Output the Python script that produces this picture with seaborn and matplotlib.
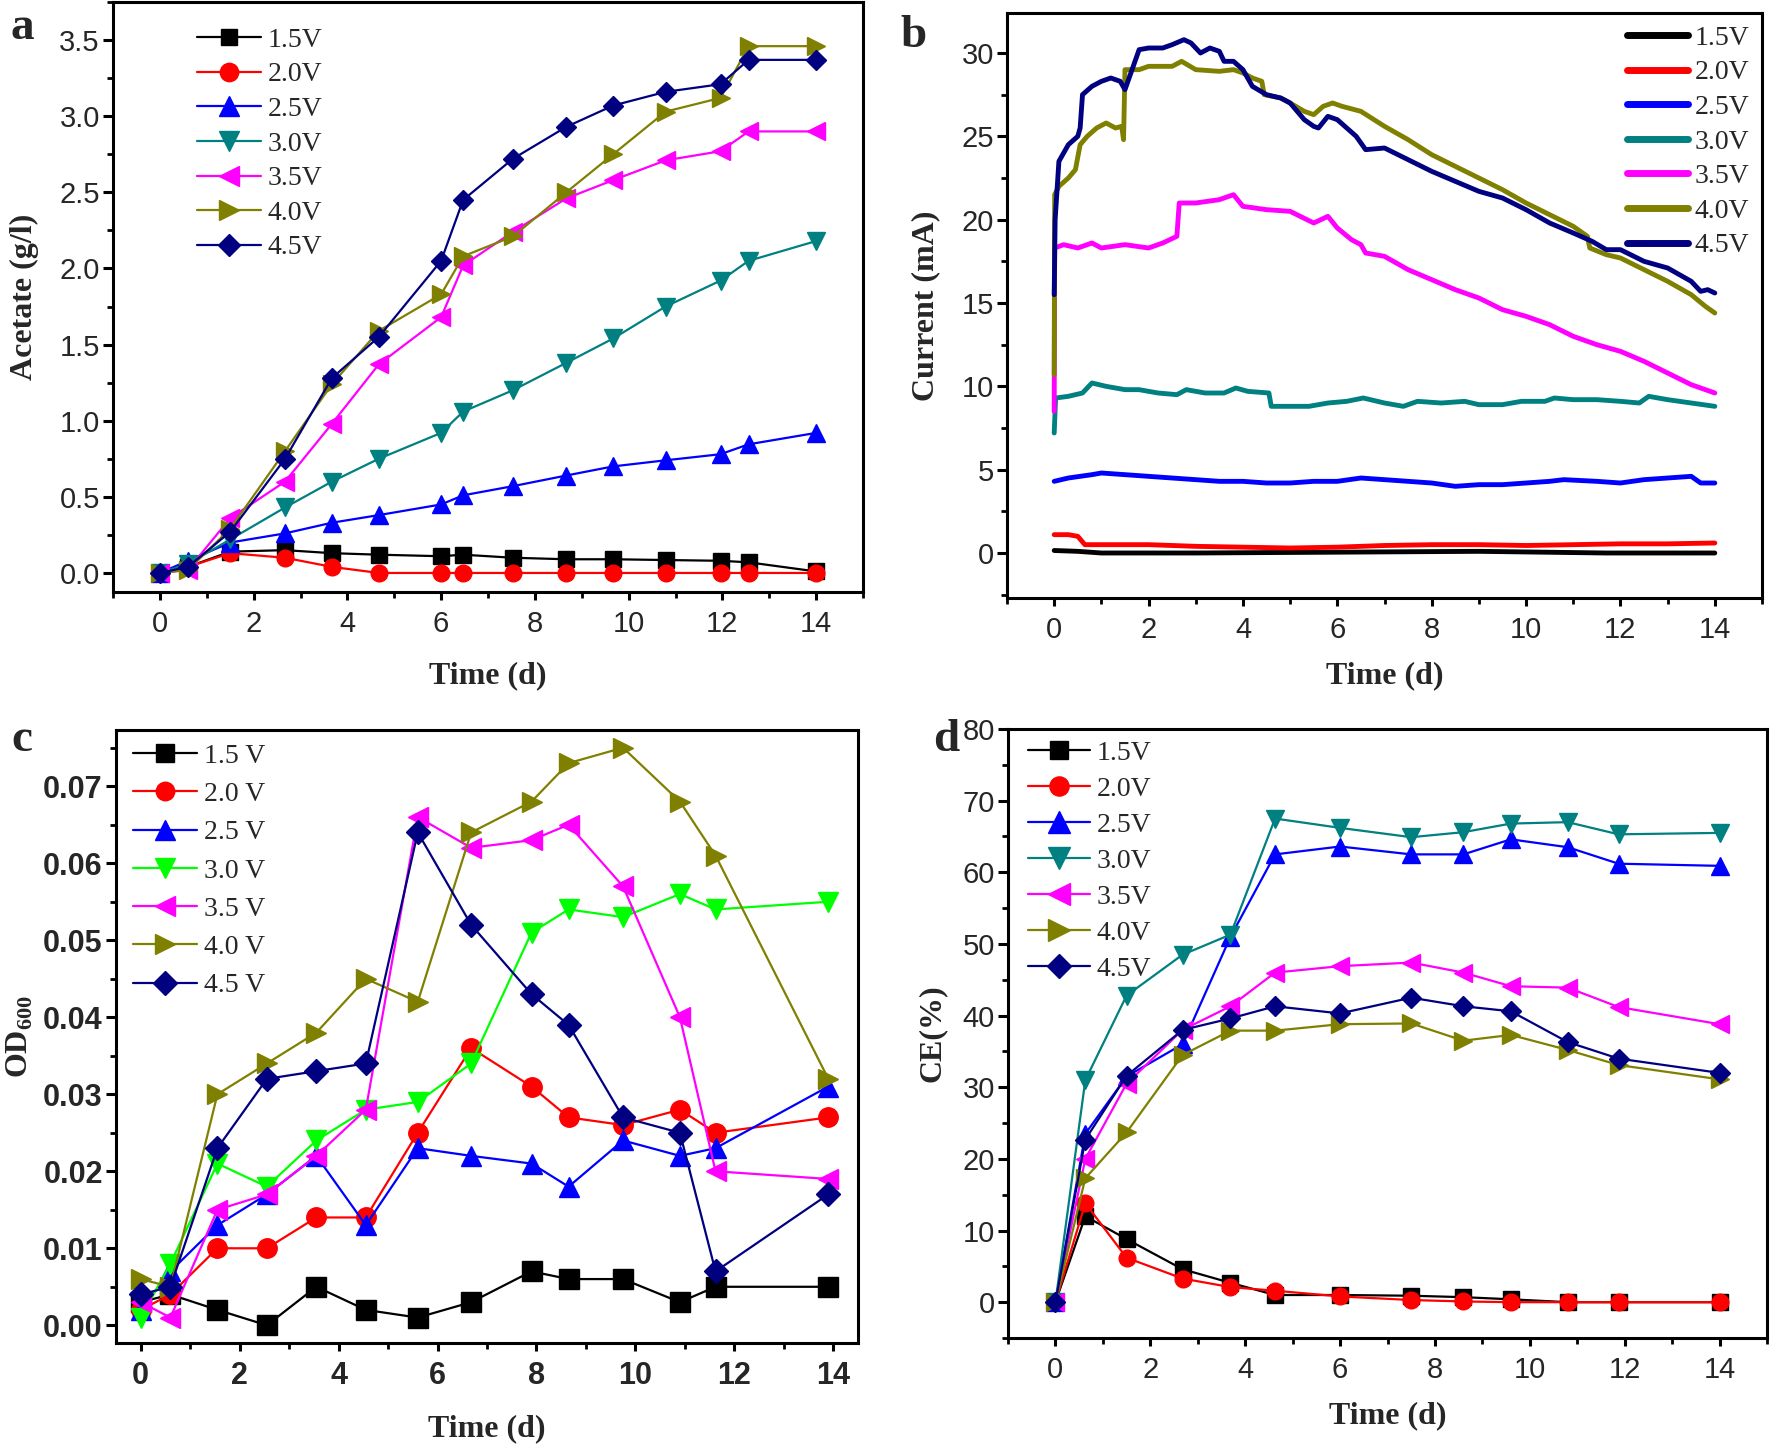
import numpy as np
import pandas as pd
import matplotlib
matplotlib.use("Agg")
import matplotlib.pyplot as plt
from matplotlib.ticker import MultipleLocator, FormatStrFormatter
import seaborn as sns

# ---------------- data ----------------
volt_labels = ["1.5V", "2.0V", "2.5V", "3.0V", "3.5V", "4.0V", "4.5V"]
volt_labels_c = ["1.5 V", "2.0 V", "2.5 V", "3.0 V", "3.5 V", "4.0 V", "4.5 V"]
colors = ["#000000", "#FF0000", "#0000FF", "#008080", "#FF00FF", "#808000", "#000080"]
colors_c = ["#000000", "#FF0000", "#0000FF", "#00FF00", "#FF00FF", "#808000", "#000080"]
markers = ["s", "o", "^", "v", "<", ">", "D"]

# (a) acetate
t_a = [0, 0.6, 1.5, 2.67, 3.67, 4.67, 6.0, 6.47, 7.53, 8.67, 9.67, 10.79, 11.96, 12.56, 14]
ac_15 = [0, 0.04, 0.14, 0.15, 0.13, 0.12, 0.11, 0.12, 0.10, 0.09, 0.09, 0.085, 0.08, 0.07, 0.01]
ac_20 = [0, 0.04, 0.13, 0.10, 0.04, 0, 0, 0, 0, 0, 0, 0, 0, 0, 0]
ac_25 = [0, 0.08, 0.20, 0.26, 0.33, 0.38, 0.45, 0.51, 0.57, 0.64, 0.70, 0.74, 0.78, 0.845, 0.92]
ac_30 = [0, 0.06, 0.22, 0.43, 0.60, 0.75, 0.92, 1.06, 1.20, 1.38, 1.54, 1.75, 1.92, 2.05, 2.18]
ac_35 = [0, 0.02, 0.36, 0.60, 0.98, 1.37, 1.68, 2.02, 2.24, 2.46, 2.58, 2.71, 2.77, 2.90, 2.90]
ac_40 = [0, 0.02, 0.29, 0.80, 1.24, 1.59, 1.83, 2.08, 2.21, 2.50, 2.75, 3.03, 3.12, 3.46, 3.46]
ac_45 = [0, 0.04, 0.27, 0.75, 1.28, 1.55, 2.05, 2.45, 2.72, 2.93, 3.07, 3.16, 3.21, 3.37, 3.37]

# (b) current traces
b_t15 = [0, 0.5, 1.0, 3.0, 6.0, 9.0, 11.7, 14.0]
b_i15 = [0.15, 0.1, 0.0, 0.0, 0.05, 0.1, 0.0, 0.0]
b_t20 = [0, 0.3, 0.5, 0.65, 1.0, 2.0, 3.0, 4.0, 5.0, 6.0, 7.0, 8.0, 9.0, 10.0, 11.0, 12.0, 13.0, 14.0]
b_i20 = [1.1, 1.1, 1.0, 0.5, 0.5, 0.5, 0.4, 0.35, 0.3, 0.35, 0.45, 0.5, 0.5, 0.45, 0.5, 0.55, 0.55, 0.6]
b_t25 = [0, 0.3, 0.8, 1.0, 1.5, 2.0, 2.5, 3.0, 3.5, 4.0, 4.5, 5.0, 5.5, 6.0, 6.5, 7.0, 7.5, 8.0,
         8.5, 9.0, 9.5, 10.0, 10.5, 10.8, 11.5, 12.0, 12.5, 13.0, 13.5, 13.7, 14.0]
b_i25 = [4.3, 4.5, 4.7, 4.8, 4.7, 4.6, 4.5, 4.4, 4.3, 4.3, 4.2, 4.2, 4.3, 4.3, 4.5, 4.4, 4.3, 4.2,
         4.0, 4.1, 4.1, 4.2, 4.3, 4.4, 4.3, 4.2, 4.4, 4.5, 4.6, 4.2, 4.2]
b_t30 = [0, 0.03, 0.3, 0.6, 0.8, 1.1, 1.5, 1.8, 2.2, 2.6, 2.8, 3.2, 3.6, 3.85, 4.1, 4.55, 4.6, 5.0,
         5.4, 5.8, 6.2, 6.55, 7.0, 7.4, 7.7, 8.2, 8.7, 9.0, 9.5, 9.9, 10.4, 10.6, 11.0, 11.5, 12.0,
         12.4, 12.6, 13.0, 13.5, 14.0]
b_i30 = [7.2, 9.3, 9.4, 9.6, 10.2, 10.0, 9.8, 9.8, 9.6, 9.5, 9.8, 9.6, 9.6, 9.9, 9.7, 9.6, 8.8, 8.8,
         8.8, 9.0, 9.1, 9.3, 9.0, 8.8, 9.1, 9.0, 9.1, 8.9, 8.9, 9.1, 9.1, 9.3, 9.2, 9.2, 9.1,
         9.0, 9.4, 9.2, 9.0, 8.8]
b_t35 = [0, 0.01, 0.2, 0.5, 0.8, 1.0, 1.5, 2.0, 2.3, 2.6, 2.65, 3.0, 3.5, 3.8, 4.0, 4.5, 5.0, 5.5,
         5.8, 6.0, 6.3, 6.5, 6.6, 7.0, 7.5, 8.0, 8.5, 9.0, 9.5, 10.0, 10.5, 11.0, 11.5, 12.0, 12.5,
         13.0, 13.5, 14.0]
b_i35 = [8.5, 18.3, 18.5, 18.3, 18.6, 18.3, 18.5, 18.3, 18.6, 19.0, 21.0, 21.0, 21.2, 21.5, 20.8,
         20.6, 20.5, 19.8, 20.2, 19.5, 18.8, 18.5, 18.0, 17.8, 17.0, 16.4, 15.8, 15.3, 14.6, 14.2,
         13.7, 13.0, 12.5, 12.1, 11.5, 10.8, 10.1, 9.6]
b_t40 = [0, 0.01, 0.1, 0.3, 0.45, 0.55, 0.7, 0.9, 1.1, 1.3, 1.43, 1.47, 1.5, 1.8, 2.0, 2.5, 2.7, 3.0,
         3.5, 3.8, 4.0, 4.2, 4.4, 4.45, 4.8, 5.0, 5.3, 5.5, 5.7, 5.9, 6.1, 6.5, 7.0, 7.5, 8.0, 8.5,
         9.0, 9.5, 10.0, 10.5, 11.0, 11.3, 11.35, 11.7, 12.0, 12.5, 13.0, 13.5, 13.8, 14.0]
b_i40 = [10.7, 21.5, 22.0, 22.5, 23.0, 24.5, 25.0, 25.5, 25.8, 25.5, 25.6, 24.8, 29.0, 29.0, 29.2,
         29.2, 29.5, 29.0, 28.9, 29.0, 28.8, 28.5, 28.3, 27.5, 27.3, 27.0, 26.5, 26.3, 26.8, 27.0,
         26.8, 26.5, 25.6, 24.8, 23.9, 23.2, 22.5, 21.8, 21.0, 20.3, 19.6, 19.0, 18.3, 17.9, 17.7,
         17.0, 16.3, 15.5, 14.8, 14.4]
b_t45 = [0, 0.02, 0.1, 0.3, 0.5, 0.55, 0.6, 0.8, 1.0, 1.2, 1.4, 1.5, 1.65, 1.8, 2.0, 2.3, 2.5, 2.75,
         2.9, 3.1, 3.3, 3.5, 3.6, 3.8, 4.0, 4.2, 4.5, 4.8, 5.0, 5.3, 5.5, 5.6, 5.8, 6.0, 6.2, 6.4,
         6.6, 7.0, 7.5, 8.0, 8.5, 9.0, 9.5, 10.0, 10.5, 11.0, 11.4, 11.7, 12.0, 12.5, 13.0, 13.5,
         13.7, 13.85, 14.0]
b_i45 = [15.5, 20.0, 23.5, 24.5, 25.0, 25.5, 27.5, 28.0, 28.3, 28.5, 28.3, 27.8, 29.0, 30.2, 30.3,
         30.3, 30.5, 30.8, 30.6, 30.0, 30.3, 30.1, 29.5, 29.5, 29.0, 28.0, 27.5, 27.3, 27.0, 26.0,
         25.6, 25.5, 26.2, 26.0, 25.5, 25.0, 24.2, 24.3, 23.6, 22.9, 22.3, 21.7, 21.3, 20.6, 19.8,
         19.2, 18.7, 18.2, 18.2, 17.5, 17.1, 16.3, 15.7, 15.8, 15.6]

# (c) OD600
t_c = [0, 0.6, 1.55, 2.55, 3.55, 4.55, 5.6, 6.68, 7.9, 8.65, 9.75, 10.9, 11.62, 13.9]
od_15 = [0.003, 0.004, 0.002, 0.000, 0.005, 0.002, 0.001, 0.003, 0.007, 0.006, 0.006, 0.003, 0.005, 0.005]
od_20 = [0.002, 0.004, 0.010, 0.010, 0.014, 0.014, 0.025, 0.036, 0.031, 0.027, 0.026, 0.028, 0.025, 0.027]
od_25 = [0.002, 0.007, 0.013, 0.017, 0.022, 0.013, 0.023, 0.022, 0.021, 0.018, 0.024, 0.022, 0.023, 0.031]
od_30 = [0.001, 0.008, 0.021, 0.018, 0.024, 0.028, 0.029, 0.034, 0.051, 0.054, 0.053, 0.056, 0.054, 0.055]
od_35 = [0.003, 0.001, 0.015, 0.017, 0.022, 0.028, 0.066, 0.062, 0.063, 0.065, 0.057, 0.040, 0.020, 0.019]
od_40 = [0.006, 0.005, 0.030, 0.034, 0.038, 0.045, 0.042, 0.064, 0.068, 0.073, 0.075, 0.068, 0.061, 0.032]
od_45 = [0.004, 0.005, 0.023, 0.032, 0.033, 0.034, 0.064, 0.052, 0.043, 0.039, 0.027, 0.025, 0.007, 0.017]

# (d) coulombic efficiency
t_d = [0, 0.63, 1.5, 2.68, 3.69, 4.63, 6.0, 7.5, 8.6, 9.6, 10.8, 11.87, 14]
ce_15 = [0, 12.0, 8.8, 4.6, 2.7, 1.0, 1.0, 0.9, 0.7, 0.4, 0, 0, 0]
ce_20 = [0, 13.8, 6.2, 3.3, 2.1, 1.6, 0.8, 0.3, 0.1, 0, 0, 0, 0]
ce_25 = [0, 23.5, 31.5, 36.0, 51.0, 62.5, 63.6, 62.5, 62.5, 64.6, 63.5, 61.2, 60.9]
ce_30 = [0, 31.0, 42.8, 48.5, 51.3, 67.5, 66.2, 64.9, 65.6, 66.8, 67.0, 65.3, 65.5]
ce_35 = [0, 20.0, 30.5, 38.0, 41.3, 46.0, 46.9, 47.4, 46.0, 44.1, 43.9, 41.2, 38.8]
ce_40 = [0, 17.3, 23.7, 34.5, 37.9, 37.9, 38.8, 38.9, 36.5, 37.3, 35.2, 33.1, 31.1]
ce_45 = [0, 22.7, 31.6, 38.0, 39.6, 41.3, 40.3, 42.5, 41.3, 40.6, 36.3, 34.0, 32.0]

# ---------------- style ----------------
sns.set_style("ticks")
plt.rcParams["font.family"] = ["Liberation Sans", "DejaVu Sans"]
plt.rcParams["mathtext.fontset"] = "custom"
plt.rcParams["mathtext.rm"] = "Liberation Serif"
plt.rcParams["mathtext.bf"] = "Liberation Serif:bold"
plt.rcParams["axes.linewidth"] = 2.2

W, H = 1772, 1448
fig = plt.figure(figsize=(W / 100, H / 100), dpi=100)


def make_ax(l, t, r, b):
    return fig.add_axes([l / W, 1 - b / H, (r - l) / W, (b - t) / H])


ax_a = make_ax(113, 2, 863, 592)
ax_b = make_ax(1007, 13, 1762, 598)
ax_c = make_ax(116, 730, 858, 1343)
ax_d = make_ax(1008, 729, 1767, 1338)

serif = "Liberation Serif"


def style_axes(ax, xmaj, xmin, ymaj, ymin, tick_bold=False, tick_size=21):
    for s in ax.spines.values():
        s.set_linewidth(2.2)
        s.set_color("black")
        s.set_visible(True)
    ax.xaxis.set_major_locator(MultipleLocator(xmaj))
    ax.xaxis.set_minor_locator(MultipleLocator(xmin))
    ax.yaxis.set_major_locator(MultipleLocator(ymaj))
    ax.yaxis.set_minor_locator(MultipleLocator(ymin))
    ax.tick_params(axis="x", which="major", direction="out", length=6, width=2.2,
                   labelsize=tick_size, top=False, color="black", pad=7)
    ax.tick_params(axis="y", which="major", direction="out", length=7, width=2.2,
                   labelsize=tick_size, right=False, color="black", pad=2.5)
    ax.tick_params(which="minor", direction="out", length=4, width=2.0,
                   top=False, right=False, color="black")
    for lab in ax.get_xticklabels() + ax.get_yticklabels():
        lab.set_fontweight("bold" if tick_bold else "normal")


def plot_series(ax, t, series, labels, cols, sizes, lw=1.6):
    for y, lab, c, m in zip(series, labels, cols, markers):
        sns.lineplot(x=t, y=y, ax=ax, color=c, marker=m, markersize=sizes[m],
                     markeredgecolor=c, markeredgewidth=1, linewidth=lw,
                     label=lab, errorbar=None, sort=False)


def set_labels(ax, xlabel, ylabel, xl_y, yl_x, size=23):
    ax.set_xlabel(xlabel, fontsize=size, fontweight="bold", family=serif)
    ax.set_ylabel(ylabel, fontsize=size, fontweight="bold", family=serif)
    ax.xaxis.label.set_va("center")
    ax.yaxis.label.set_va("center")
    ax.xaxis.set_label_coords(0.5, xl_y)
    ax.yaxis.set_label_coords(yl_x, 0.5)


size_ad = {"s": 11, "o": 12, "^": 13.5, "v": 13.5, "<": 13.5, ">": 13.5, "D": 10.5}
size_c = {"s": 14, "o": 14, "^": 15, "v": 15, "<": 15, ">": 15, "D": 12.5}
leg_common = dict(frameon=False, handletextpad=0.25, borderpad=0, borderaxespad=0, numpoints=1)

# ---------------- (a) ----------------
plot_series(ax_a, t_a, [ac_15, ac_20, ac_25, ac_30, ac_35, ac_40, ac_45],
            volt_labels, colors, size_ad)
ax_a.set_xlim(-1, 15)
ax_a.set_ylim(-0.125, 3.75)
style_axes(ax_a, 2, 1, 0.5, 0.25)
ax_a.yaxis.set_major_formatter(FormatStrFormatter("%.1f"))
set_labels(ax_a, "Time (d)", "Acetate (g/l)", -0.142, -0.118)
ax_a.legend(loc="upper left", bbox_to_anchor=(0.112, 0.957),
            prop={"family": serif, "size": 20}, handlelength=2.3,
            labelspacing=0.33, markerscale=1.1, **leg_common)

# ---------------- (b) ----------------
b_series = [(b_t15, b_i15), (b_t20, b_i20), (b_t25, b_i25), (b_t30, b_i30),
            (b_t35, b_i35), (b_t40, b_i40), (b_t45, b_i45)]
for (t, y), lab, c in zip(b_series, volt_labels, colors):
    sns.lineplot(x=t, y=y, ax=ax_b, color=c, linewidth=3.5, label=lab,
                 errorbar=None, sort=False)
ax_b.set_xlim(-1, 15)
ax_b.set_ylim(-2.7, 32.4)
style_axes(ax_b, 2, 1, 5, 2.5)
set_labels(ax_b, "Time (d)", "Current (mA)", -0.132, -0.107)
leg_b = ax_b.legend(loc="upper left", bbox_to_anchor=(0.821, 0.979),
                    prop={"family": serif, "size": 20}, handlelength=2.2,
                    labelspacing=0.33, **leg_common)
for h in leg_b.get_lines():
    h.set_linewidth(5)

# ---------------- (c) ----------------
plot_series(ax_c, t_c, [od_15, od_20, od_25, od_30, od_35, od_40, od_45],
            volt_labels_c, colors_c, size_c)
ax_c.set_xlim(-0.5, 14.5)
ax_c.set_ylim(-0.0023, 0.0773)
style_axes(ax_c, 2, 1, 0.01, 0.005, tick_bold=True, tick_size=22)
ax_c.yaxis.set_major_formatter(FormatStrFormatter("%.2f"))
set_labels(ax_c, "Time (d)", r"$\mathbf{OD}_{\mathbf{600}}$", -0.14, -0.13)
ax_c.legend(loc="upper left", bbox_to_anchor=(0.023, 0.978),
            prop={"family": serif, "size": 20}, handlelength=2.3,
            labelspacing=0.46, markerscale=0.95, **leg_common)

# ---------------- (d) ----------------
plot_series(ax_d, t_d, [ce_15, ce_20, ce_25, ce_30, ce_35, ce_40, ce_45],
            volt_labels, colors, size_ad)
ax_d.set_xlim(-1, 15)
ax_d.set_ylim(-5, 80)
style_axes(ax_d, 2, 1, 10, 5)
set_labels(ax_d, "Time (d)", "CE(%)", -0.127, -0.1)
ax_d.legend(loc="upper left", bbox_to_anchor=(0.027, 0.981),
            prop={"family": serif, "size": 20}, handlelength=2.2,
            labelspacing=0.38, markerscale=1.15, **leg_common)

# ---------------- panel letters ----------------
for txt, x, y in [("a", 22, 28), ("b", 913, 36), ("c", 22, 740), ("d", 946, 740)]:
    fig.text(x / W, 1 - y / H, txt, fontsize=34, fontweight="bold", family=serif,
             ha="center", va="center")

fig.savefig("out.png", dpi=100)
